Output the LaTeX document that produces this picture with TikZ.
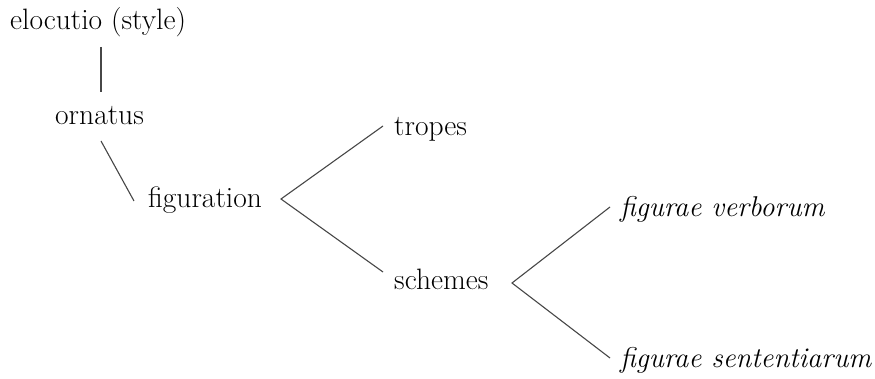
\documentclass[tikz,border=0pt]{standalone}
\usepackage{fontspec}
\begin{document}
\begin{tikzpicture}[x=1pt,y=-1pt,
  lbl/.style={inner sep=0pt,anchor=base west,font=\rmfamily\fontsize{29.5}{32}\selectfont},
  ilbl/.style={lbl,font=\rmfamily\fontsize{28.6}{32}\selectfont\itshape},
  conn/.style={draw=black!72,line width=1.1pt}]
\useasboundingbox (0,0) rectangle (875,379);
\node[lbl] (elo) at (10,30) {elocutio (style)};
\node[lbl] (orn) at (55,125) {ornatus};
\node[lbl] (fig) at (148,208) {figuration};
\node[lbl] (tro) at (394,136) {tropes};
\node[lbl] (sch) at (394,289) {schemes};
\node[ilbl] (fv) at (620,217) {figurae verborum};
\node[ilbl] (fs) at (620,367) {figurae sententiarum};
\coordinate (eloout) at (101,47);
\coordinate (ornin) at (101,92);
\coordinate (ornout) at (101,141);
\coordinate (figin) at (134,201);
\coordinate (figapex) at (281,199);
\coordinate (troin) at (383,126);
\coordinate (schin) at (383,272);
\coordinate (schapex) at (512,283);
\coordinate (fvin) at (610,207);
\coordinate (fsin) at (610,358);
\draw[conn] (eloout) -- (ornin);
\draw[conn] (ornout) -- (figin);
\draw[conn] (troin) -- (figapex) -- (schin);
\draw[conn] (fvin) -- (schapex) -- (fsin);
\end{tikzpicture}
\end{document}
